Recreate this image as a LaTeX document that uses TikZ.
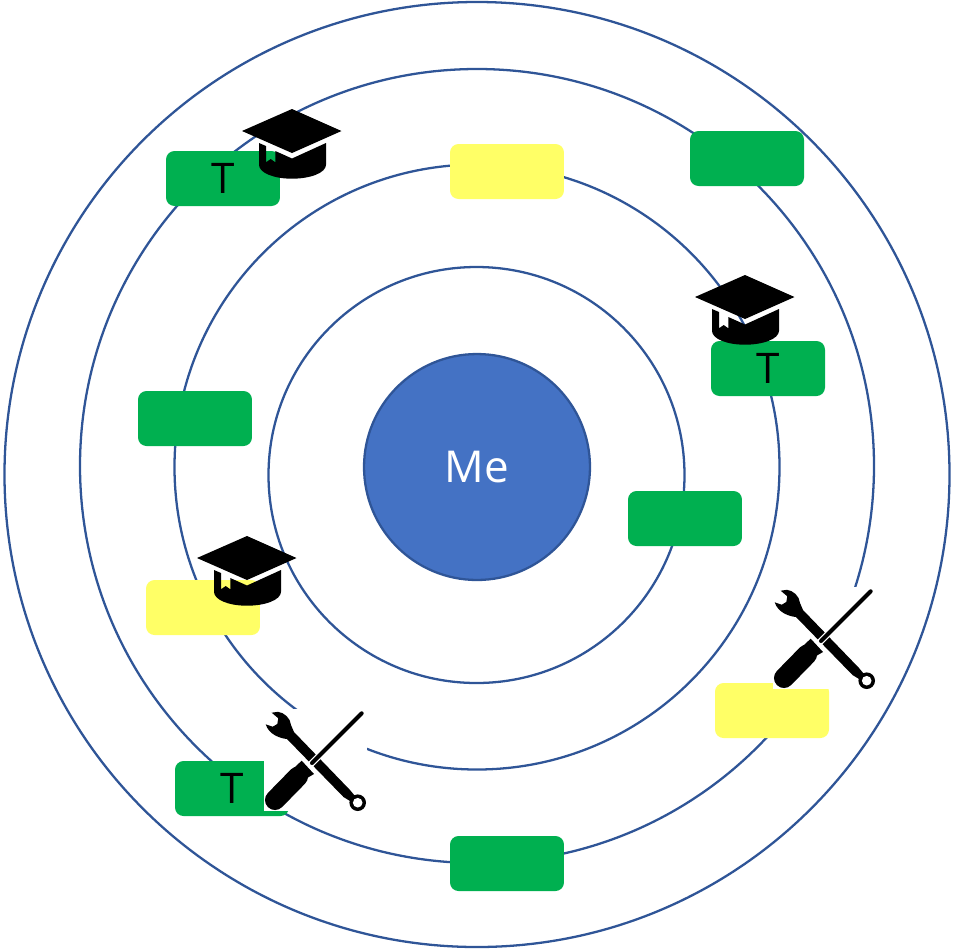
\documentclass[tikz,border=0pt]{standalone}
\usepackage{fontspec}
\setmainfont{Open Sans}
\definecolor{ringblue}{HTML}{2F5597}
\definecolor{meblue}{HTML}{4472C4}
\definecolor{tagGreen}{HTML}{00B050}
\definecolor{tagYellow}{HTML}{FFFF66}
\tikzset{
    ring/.style={draw=ringblue, line width=1.3pt},
    tag/.style={minimum width=2.28cm, minimum height=1.1cm, inner sep=0pt, rounded corners=0.17cm, font=\fontsize{24}{24}\selectfont},
    greentag/.style={tag, fill=tagGreen},
    yellowtag/.style={tag, fill=tagYellow},
    gradcap/.pic={
        \fill (0,0)--(49.5,22)--(0,44)--(-50,22)--cycle;
        \fill (-33,34)--(-26,37)--(-26,53.3)--(-21.3,50)--(-16.7,53.3)--(-16.7,42)--(0,49.5)--(34,34)--(34,55.7)
            .. controls (34,64) and (18,69.7) .. (0,69.7)
            .. controls (-18,69.7) and (-33,64) .. (-33,55.7)--cycle;
    },
    toolset/.pic={
        \fill[white] (0,0) rectangle (103,102);
        % wrench
        \fill (7.7,3.7)--(14,2.8) .. controls (20,3.5) and (26.5,9) .. (27,16)--(30,23)--(86,81)--(91,87)--(86,92)--(79.5,88)--(23,30)
            .. controls (17,29.5) and (5,26) .. (1.7,15.3)--(8.7,17.7)--(13.3,15)--(14.3,9.3)--cycle;
        \fill (93.7,93.7) circle (8.3);
        \fill[white] (93.7,93.7) circle (4.8);
        % screwdriver
        \draw[white, line width=3.8pt] (44,58)--(56,46);
        \draw[line width=2.3pt, line cap=round] (97.7,4.3)--(48,54);
        \draw[line width=11.4pt, line cap=round] (11,91)--(34,67.5);
        \fill (37.7,51.7)--(50,65)--(44.3,68.3)--(36,78)--(24,66)--(32,57)--cycle;
    }
}
\begin{document}
\begin{tikzpicture}[x=0.02cm, y=-0.02cm]
    \useasboundingbox (0,0) rectangle (953,951);

    \draw[ring] (476.5,475) circle (208);
    \draw[ring] (477,467) circle (302.5);
    \draw[ring] (477,466) circle (397);
    \draw[ring] (477,474.5) circle (472.5);
    \node[circle, draw=ringblue, line width=1.3pt, fill=meblue, minimum size=4.52cm, inner sep=0pt, text=white, font=\fontsize{25}{25}\selectfont] (me) at (477,467) {Me};

    \node[greentag] (tagA) at (223,178.5) {T};
    \node[yellowtag] (tagB) at (507,171.5) {};
    \node[greentag] (tagC) at (747,158.5) {};
    \node[greentag] (tagD) at (768,368.5) {T};
    \node[greentag] (tagE) at (195,418.5) {};
    \node[greentag] (tagF) at (685,518.5) {};
    \node[yellowtag] (tagG) at (203,607.5) {};
    \node[yellowtag] (tagH) at (772,710.5) {};
    \node[greentag] (tagI) at (232,788.5) {T};
    \node[greentag] (tagJ) at (507,863.5) {};

    \pic at (292,109) {gradcap};
    \pic at (745,275) {gradcap};
    \pic at (247,536) {gradcap};
    \pic at (264,709) {toolset};
    \pic at (773,587) {toolset};
\end{tikzpicture}
\end{document}
